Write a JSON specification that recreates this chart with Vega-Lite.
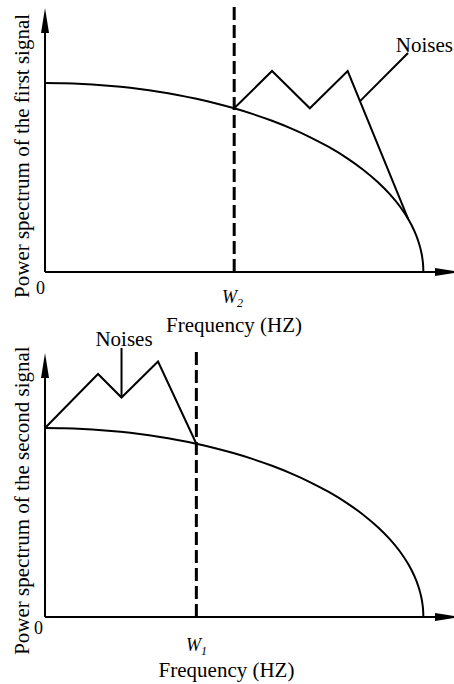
{
  "$schema": "https://vega.github.io/schema/vega-lite/v6.json",
  "width": 454,
  "height": 684,
  "autosize": {"type": "fit", "contains": "padding"},
  "padding": 0,
  "background": "white",
  "config": {
    "view": {"stroke": null},
    "mark": {"color": "black"},
    "text": {"font": "Liberation Serif, Times New Roman, DejaVu Serif, serif", "color": "black"}
  },
  "datasets": {
    "axes": [
      {"f": 0, "p": 0, "f2": 0, "p2": 1.28},
      {"f": 0, "p": 0, "f2": 1.04, "p2": 0}
    ],
    "arrows": [
      {"f": 0, "p": 1.3307, "dir": "up"},
      {"f": 1.0639, "p": 0, "dir": "right"}
    ],
    "spectrum": [
      {"f": 0, "p": 1},
      {"f": 0.05, "p": 0.99875},
      {"f": 0.1, "p": 0.99499},
      {"f": 0.15, "p": 0.98869},
      {"f": 0.2, "p": 0.9798},
      {"f": 0.25, "p": 0.96825},
      {"f": 0.3, "p": 0.95394},
      {"f": 0.35, "p": 0.93675},
      {"f": 0.4, "p": 0.91652},
      {"f": 0.45, "p": 0.89303},
      {"f": 0.5, "p": 0.86603},
      {"f": 0.55, "p": 0.83516},
      {"f": 0.6, "p": 0.8},
      {"f": 0.65, "p": 0.75993},
      {"f": 0.7, "p": 0.71414},
      {"f": 0.75, "p": 0.66144},
      {"f": 0.8, "p": 0.6},
      {"f": 0.84, "p": 0.54259},
      {"f": 0.88, "p": 0.47497},
      {"f": 0.91, "p": 0.41461},
      {"f": 0.94, "p": 0.34117},
      {"f": 0.96, "p": 0.28},
      {"f": 0.975, "p": 0.2222},
      {"f": 0.985, "p": 0.17255},
      {"f": 0.992, "p": 0.12624},
      {"f": 0.997, "p": 0.0774},
      {"f": 0.9995, "p": 0.03162},
      {"f": 1, "p": 0}
    ],
    "cutoff_top": [{"f": 0.5, "p": 0, "p2": 1.402}],
    "cutoff_bottom": [{"f": 0.4, "p": 0, "p2": 1.4127}],
    "noise_top": [
      {"f": 0.5, "p": 0.866},
      {"f": 0.6, "p": 1.0635},
      {"f": 0.7, "p": 0.866},
      {"f": 0.8, "p": 1.0635},
      {"f": 0.96, "p": 0.28}
    ],
    "noise_bottom": [
      {"f": 0, "p": 1},
      {"f": 0.1401, "p": 1.2857},
      {"f": 0.2022, "p": 1.1614},
      {"f": 0.2987, "p": 1.3519},
      {"f": 0.4, "p": 0.9165}
    ],
    "leader_top": [{"f": 0.8326, "p": 0.904, "f2": 0.9595, "p2": 1.1587}],
    "leader_bottom": [{"f": 0.2022, "p": 1.1614, "f2": 0.2022, "p2": 1.4233}],
    "labels_top": [
      {"kind": "noteR", "label": "Noises", "f": 1.0784, "p": 1.164},
      {"kind": "axis", "label": "Frequency (HZ)", "f": 0.4996, "p": -0.3175},
      {"kind": "ytitle", "label": "Power spectrum of the first signal", "f": -0.0423, "p": 0.614},
      {"kind": "zero", "label": "0", "f": 0, "p": -0.1164},
      {"kind": "w", "label": "W", "f": 0.5075, "p": -0.164},
      {"kind": "sub", "label": "2", "f": 0.5075, "p": -0.185}
    ],
    "labels_bottom": [
      {"kind": "noteC", "label": "Noises", "f": 0.2088, "p": 1.4339},
      {"kind": "axis", "label": "Frequency (HZ)", "f": 0.4797, "p": -0.316},
      {"kind": "ytitle", "label": "Power spectrum of the second signal", "f": -0.0423, "p": 0.616},
      {"kind": "zero", "label": "0", "f": -0.0053, "p": -0.09},
      {"kind": "w", "label": "W", "f": 0.4123, "p": -0.182},
      {"kind": "sub", "label": "1", "f": 0.4123, "p": -0.2}
    ]
  },
  "layer": [
    {
      "layer": [
        {
          "data": {"name": "axes"},
          "mark": {"type": "rule", "color": "black", "strokeWidth": 2},
          "encoding": {
            "x": {"field": "f", "type": "quantitative", "scale": {"domain": [-0.119, 1.081], "nice": false, "zero": false}, "axis": null},
            "y": {"field": "p", "type": "quantitative", "scale": {"domain": [-2.179894, 1.439153], "nice": false, "zero": false}, "axis": null},
            "x2": {"field": "f2"},
            "y2": {"field": "p2"}
          }
        },
        {
          "data": {"name": "arrows"},
          "mark": {"type": "point", "filled": true, "color": "black", "opacity": 1, "size": 625, "strokeWidth": 0, "clip": true},
          "encoding": {
            "x": {"field": "f", "type": "quantitative", "axis": null},
            "y": {"field": "p", "type": "quantitative", "axis": null},
            "shape": {"field": "dir", "type": "nominal", "legend": null, "scale": {"domain": ["up", "right"], "range": ["M0,-1L0.32,1L-0.32,1Z", "M1,0L-1,0.32L-1,-0.32Z"]}}
          }
        },
        {
          "data": {"name": "spectrum"},
          "mark": {"type": "line", "color": "black", "strokeWidth": 2, "interpolate": "monotone"},
          "encoding": {
            "x": {"field": "f", "type": "quantitative", "axis": null},
            "y": {"field": "p", "type": "quantitative", "axis": null}
          }
        },
        {
          "data": {"name": "cutoff_top"},
          "mark": {"type": "rule", "color": "black", "strokeWidth": 3, "strokeDash": [13, 5]},
          "encoding": {
            "x": {"field": "f", "type": "quantitative", "axis": null},
            "y": {"field": "p", "type": "quantitative", "axis": null},
            "y2": {"field": "p2"}
          }
        },
        {
          "data": {"name": "noise_top"},
          "mark": {"type": "line", "color": "black", "strokeWidth": 2},
          "encoding": {
            "x": {"field": "f", "type": "quantitative", "axis": null},
            "y": {"field": "p", "type": "quantitative", "axis": null}
          }
        },
        {
          "data": {"name": "leader_top"},
          "mark": {"type": "rule", "color": "black", "strokeWidth": 2},
          "encoding": {
            "x": {"field": "f", "type": "quantitative", "axis": null},
            "y": {"field": "p", "type": "quantitative", "axis": null},
            "x2": {"field": "f2"},
            "y2": {"field": "p2"}
          }
        },
        {
          "data": {"name": "labels_top"},
          "transform": [{"filter": "datum.kind === 'noteR'"}],
          "mark": {"type": "text", "fontSize": 21, "align": "right", "baseline": "alphabetic", "color": "black"},
          "encoding": {
            "x": {"field": "f", "type": "quantitative", "axis": null},
            "y": {"field": "p", "type": "quantitative", "axis": null},
            "text": {"field": "label"}
          }
        },
        {
          "data": {"name": "labels_top"},
          "transform": [{"filter": "datum.kind === 'axis'"}],
          "mark": {"type": "text", "fontSize": 21, "align": "center", "baseline": "alphabetic", "color": "black"},
          "encoding": {
            "x": {"field": "f", "type": "quantitative", "axis": null},
            "y": {"field": "p", "type": "quantitative", "axis": null},
            "text": {"field": "label"}
          }
        },
        {
          "data": {"name": "labels_top"},
          "transform": [{"filter": "datum.kind === 'ytitle'"}],
          "mark": {"type": "text", "fontSize": 21, "align": "center", "baseline": "alphabetic", "angle": 270, "color": "black"},
          "encoding": {
            "x": {"field": "f", "type": "quantitative", "axis": null},
            "y": {"field": "p", "type": "quantitative", "axis": null},
            "text": {"field": "label"}
          }
        },
        {
          "data": {"name": "labels_top"},
          "transform": [{"filter": "datum.kind === 'zero'"}],
          "mark": {"type": "text", "fontSize": 18, "align": "right", "baseline": "alphabetic", "color": "black"},
          "encoding": {
            "x": {"field": "f", "type": "quantitative", "axis": null},
            "y": {"field": "p", "type": "quantitative", "axis": null},
            "text": {"field": "label"}
          }
        },
        {
          "data": {"name": "labels_top"},
          "transform": [{"filter": "datum.kind === 'w'"}],
          "mark": {"type": "text", "fontSize": 18, "fontStyle": "italic", "align": "right", "baseline": "alphabetic", "color": "black"},
          "encoding": {
            "x": {"field": "f", "type": "quantitative", "axis": null},
            "y": {"field": "p", "type": "quantitative", "axis": null},
            "text": {"field": "label"}
          }
        },
        {
          "data": {"name": "labels_top"},
          "transform": [{"filter": "datum.kind === 'sub'"}],
          "mark": {"type": "text", "fontSize": 12, "fontStyle": "italic", "align": "left", "baseline": "alphabetic", "color": "black"},
          "encoding": {
            "x": {"field": "f", "type": "quantitative", "axis": null},
            "y": {"field": "p", "type": "quantitative", "axis": null},
            "text": {"field": "label"}
          }
        }
      ]
    },
    {
      "layer": [
        {
          "data": {"name": "axes"},
          "mark": {"type": "rule", "color": "black", "strokeWidth": 2},
          "encoding": {
            "x": {"field": "f", "type": "quantitative", "axis": null},
            "y": {"field": "p", "type": "quantitative", "scale": {"domain": [-0.354497, 3.26455], "nice": false, "zero": false}, "axis": null},
            "x2": {"field": "f2"},
            "y2": {"field": "p2"}
          }
        },
        {
          "data": {"name": "arrows"},
          "mark": {"type": "point", "filled": true, "color": "black", "opacity": 1, "size": 625, "strokeWidth": 0, "clip": true},
          "encoding": {
            "x": {"field": "f", "type": "quantitative", "axis": null},
            "y": {"field": "p", "type": "quantitative", "axis": null},
            "shape": {"field": "dir", "type": "nominal", "legend": null, "scale": {"domain": ["up", "right"], "range": ["M0,-1L0.32,1L-0.32,1Z", "M1,0L-1,0.32L-1,-0.32Z"]}}
          }
        },
        {
          "data": {"name": "spectrum"},
          "mark": {"type": "line", "color": "black", "strokeWidth": 2, "interpolate": "monotone"},
          "encoding": {
            "x": {"field": "f", "type": "quantitative", "axis": null},
            "y": {"field": "p", "type": "quantitative", "axis": null}
          }
        },
        {
          "data": {"name": "cutoff_bottom"},
          "mark": {"type": "rule", "color": "black", "strokeWidth": 3, "strokeDash": [13, 5]},
          "encoding": {
            "x": {"field": "f", "type": "quantitative", "axis": null},
            "y": {"field": "p", "type": "quantitative", "axis": null},
            "y2": {"field": "p2"}
          }
        },
        {
          "data": {"name": "noise_bottom"},
          "mark": {"type": "line", "color": "black", "strokeWidth": 2},
          "encoding": {
            "x": {"field": "f", "type": "quantitative", "axis": null},
            "y": {"field": "p", "type": "quantitative", "axis": null}
          }
        },
        {
          "data": {"name": "leader_bottom"},
          "mark": {"type": "rule", "color": "black", "strokeWidth": 2},
          "encoding": {
            "x": {"field": "f", "type": "quantitative", "axis": null},
            "y": {"field": "p", "type": "quantitative", "axis": null},
            "x2": {"field": "f2"},
            "y2": {"field": "p2"}
          }
        },
        {
          "data": {"name": "labels_bottom"},
          "transform": [{"filter": "datum.kind === 'noteC'"}],
          "mark": {"type": "text", "fontSize": 21, "align": "center", "baseline": "alphabetic", "color": "black"},
          "encoding": {
            "x": {"field": "f", "type": "quantitative", "axis": null},
            "y": {"field": "p", "type": "quantitative", "axis": null},
            "text": {"field": "label"}
          }
        },
        {
          "data": {"name": "labels_bottom"},
          "transform": [{"filter": "datum.kind === 'axis'"}],
          "mark": {"type": "text", "fontSize": 21, "align": "center", "baseline": "alphabetic", "color": "black"},
          "encoding": {
            "x": {"field": "f", "type": "quantitative", "axis": null},
            "y": {"field": "p", "type": "quantitative", "axis": null},
            "text": {"field": "label"}
          }
        },
        {
          "data": {"name": "labels_bottom"},
          "transform": [{"filter": "datum.kind === 'ytitle'"}],
          "mark": {"type": "text", "fontSize": 21, "align": "center", "baseline": "alphabetic", "angle": 270, "color": "black"},
          "encoding": {
            "x": {"field": "f", "type": "quantitative", "axis": null},
            "y": {"field": "p", "type": "quantitative", "axis": null},
            "text": {"field": "label"}
          }
        },
        {
          "data": {"name": "labels_bottom"},
          "transform": [{"filter": "datum.kind === 'zero'"}],
          "mark": {"type": "text", "fontSize": 18, "align": "right", "baseline": "alphabetic", "color": "black"},
          "encoding": {
            "x": {"field": "f", "type": "quantitative", "axis": null},
            "y": {"field": "p", "type": "quantitative", "axis": null},
            "text": {"field": "label"}
          }
        },
        {
          "data": {"name": "labels_bottom"},
          "transform": [{"filter": "datum.kind === 'w'"}],
          "mark": {"type": "text", "fontSize": 18, "fontStyle": "italic", "align": "right", "baseline": "alphabetic", "color": "black"},
          "encoding": {
            "x": {"field": "f", "type": "quantitative", "axis": null},
            "y": {"field": "p", "type": "quantitative", "axis": null},
            "text": {"field": "label"}
          }
        },
        {
          "data": {"name": "labels_bottom"},
          "transform": [{"filter": "datum.kind === 'sub'"}],
          "mark": {"type": "text", "fontSize": 12, "fontStyle": "italic", "align": "left", "baseline": "alphabetic", "color": "black"},
          "encoding": {
            "x": {"field": "f", "type": "quantitative", "axis": null},
            "y": {"field": "p", "type": "quantitative", "axis": null},
            "text": {"field": "label"}
          }
        }
      ]
    }
  ],
  "resolve": {"scale": {"y": "independent"}}
}
